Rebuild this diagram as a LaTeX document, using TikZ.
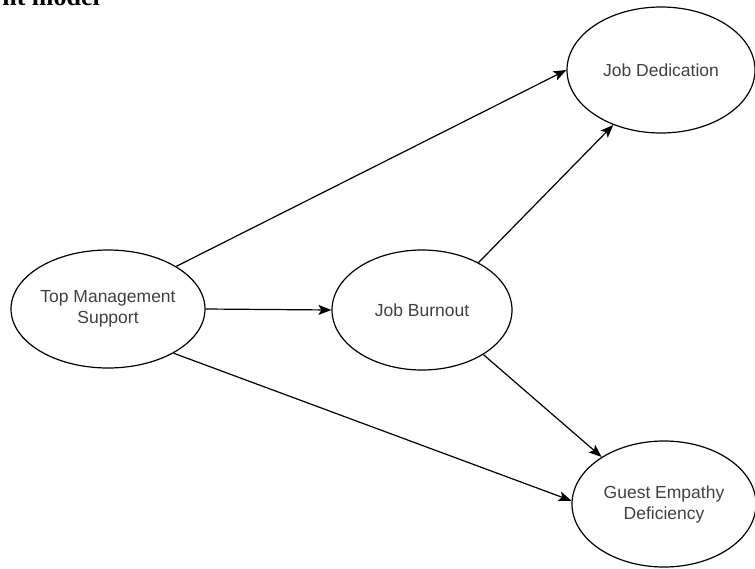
\documentclass[tikz,border=0pt]{standalone}
\usepackage{fontspec}
\setmainfont{Liberation Sans}
\newfontfamily\capfont{Liberation Serif}
\usetikzlibrary{shapes.geometric,arrows.meta}
\begin{document}
\begin{tikzpicture}[x=1pt,y=-1pt,
  oval/.style={draw=black, line width=1.2pt, ellipse, inner sep=0pt, align=center,
    font=\fontsize{17.5}{21}\selectfont, text=black!75},
  link/.style={draw=black, line width=1.2pt, -{Stealth[length=13pt,width=10pt,inset=3pt]}}]
\useasboundingbox (0,0) rectangle (755,568);
\node[anchor=base east, inner sep=0pt, font=\capfont\bfseries\fontsize{26}{30}\selectfont] (cap) at (100,5) {nt model};
\node[oval, minimum width=194pt, minimum height=118pt] (tms) at (108,309) {Top Management\\Support};
\node[oval, minimum width=180pt, minimum height=120pt] (jb) at (422,310) {Job Burnout};
\node[oval, minimum width=188pt, minimum height=126pt] (jd) at (661,70) {Job Dedication};
\node[oval, minimum width=184pt, minimum height=126pt] (ged) at (664,504) {Guest Empathy\\Deficiency};
\draw[link] (tms.32) -- (jd.west);
\draw[link] (tms.east) -- (jb.west);
\draw[link] (tms.-34) -- (ged.178);
\draw[link] (jb.40) -- (jd.229);
\draw[link] (jb.-36) -- (ged.143);
\end{tikzpicture}
\end{document}
